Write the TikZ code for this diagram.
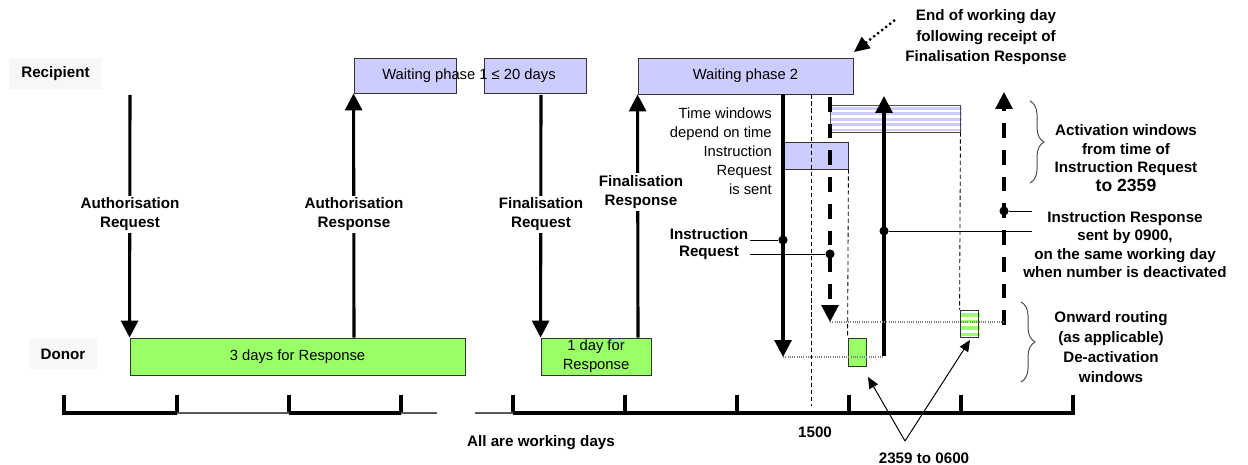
\documentclass[tikz,border=0pt]{standalone}
\usepackage{fontspec}
\setmainfont{Liberation Sans}
\usetikzlibrary{arrows.meta,decorations.pathreplacing}
\definecolor{lavender}{HTML}{CCCCFF}
\definecolor{leaf}{HTML}{99FF66}
\begin{document}
\begin{tikzpicture}[x=0.025cm,y=-0.025cm,
    every node/.style={font=\fontsize{10.5}{13.5}\selectfont},
    lane/.style={fill=black!3,inner sep=0pt,font=\fontsize{10.8}{13.5}\selectfont\bfseries},
    waitbox/.style={draw=black!80,fill=lavender,line width=0.6pt,inner sep=0pt},
    respbox/.style={draw=black!80,fill=leaf,line width=0.6pt,inner sep=0pt,align=center},
    msg/.style={line width=2.2pt,-{Triangle[width=12pt,length=12pt]}},
    msgdash/.style={msg,dash pattern=on 10.5pt off 8.5pt},
    tag/.style={font=\fontsize{10.8}{13.5}\selectfont\bfseries,align=center},
    cut/.style={tag,fill=white,inner sep=1.5pt},
    guide/.style={line width=0.6pt,dash pattern=on 3pt off 2pt},
    trace/.style={black!50,line width=0.8pt,dash pattern=on 0.8pt off 0.8pt},
    joint/.style={circle,fill,inner sep=0pt,minimum size=6.5pt},
    pointer/.style={line width=0.7pt,-{Triangle[width=7pt,length=8pt]}},
    curly/.style={decorate,decoration={brace,amplitude=10pt},black!70,line width=0.7pt}]
    \useasboundingbox (0,0) rectangle (1248,465);

    \node[lane,minimum width=2.325cm,minimum height=0.775cm] (recip) at (55.5,73.5) {Recipient};
    \node[lane,minimum width=1.7cm,minimum height=0.75cm] (donor) at (63,354) {Donor};

    \node[waitbox,minimum width=2.55cm,minimum height=0.875cm] (wp1a) at (405,75.5) {};
    \node[waitbox,minimum width=2.55cm,minimum height=0.875cm] (wp1b) at (535,75.5) {};
    \node (wp1) at (469,75.5) {Waiting phase 1 ≤ 20 days};
    \node[waitbox,minimum width=5.375cm,minimum height=0.9cm] (wp2) at (745.5,76) {Waiting phase 2};
    \node[waitbox,minimum width=1.6cm,minimum height=0.675cm] (ireq) at (816,155.5) {};
    \node[respbox,minimum width=8.375cm,minimum height=0.925cm] (resp1) at (297.5,356.5) {3 days for Response};
    \node[respbox,minimum width=2.75cm,minimum height=0.925cm] (resp2) at (596,356.5) {1 day for\\Response};

    \foreach \s in {0,...,4}
        \fill[lavender] (830,107+5.4*\s) rectangle (962,109.8+5.4*\s);
    \node[draw=black!70,line width=0.6pt,minimum width=3.25cm,minimum height=0.675cm,inner sep=0pt] (awin) at (895,118.5) {};
    \foreach \s in {0,...,3}
        \fill[leaf] (960,313+6.6*\s) rectangle (980,316.5+6.6*\s);
    \node[draw=black!80,line width=0.6pt,minimum width=0.45cm,minimum height=0.675cm,inner sep=0pt] (dwin2) at (969,323.5) {};
    \node[respbox,minimum width=0.45cm,minimum height=0.7cm] (dwin1) at (857,352) {};

    \draw[msg] (130,95) -- (resp1.north west);
    \draw[msg] (354,0 |- resp1.north) -- (wp1a.south west);
    \draw[msg] (541,95) -- (resp2.north west);
    \draw[msg] (638,0 |- resp2.north) -- (wp2.south west);

    \draw[guide] (811,0 |- wp2.south) -- (811,406);
    \draw[guide] (ireq.south east) -- (dwin1.north west);
    \draw[guide] (awin.south east) -- (dwin2.north west);
    \draw[msg] (783,0 |- wp2.south) -- (783,357) coordinate (ir1);
    \draw[msgdash] (830,97) -- (830,322) coordinate (ir2);
    \draw[msg] (884,356) coordinate (irs1) -- (884,96);
    \draw[msgdash] (1004,325) coordinate (irs2) -- (1004,92);
    \draw[trace] (ir1) -- (ir1 -| irs1);
    \draw[trace] (ir2) -- (ir2 -| irs2);

    \node[cut] (arq) at (130,214.5) {Authorisation\\Request};
    \node[cut] (ars) at (354,214.5) {Authorisation\\Response};
    \node[cut] (frq) at (541,214.5) {Finalisation\\Request};
    \node[cut] (frs) at (641,192) {Finalisation\\Response};

    \node[anchor=east,align=right,inner sep=0pt] (tw) at (772,151.5) {Time windows\\depend on time\\Instruction\\Request\\is sent};
    \node[tag,inner sep=1pt,font=\fontsize{10.8}{12}\selectfont\bfseries] (iq) at (709,244) {Instruction\\Request};
    \node[joint] (d1) at (783,240) {};
    \node[joint] (d2) at (830,254) {};
    \node[joint] (d3) at (884,231) {};
    \node[joint] (d4) at (1004,211) {};
    \draw[line width=0.7pt] (d1) -- (d1 -| iq.east);
    \draw[line width=0.7pt] (d2) -- (d2 -| iq.east);

    \node[tag,font=\fontsize{10.8}{13.2}\selectfont\bfseries] (irs) at (1125,244.5) {Instruction Response\\sent by 0900,\\on the same working day\\when number is deactivated};
    \coordinate (irsa) at (1032,211);
    \coordinate (irsb) at (1032,231);
    \draw[line width=0.7pt] (d4) -- (irsa);
    \draw[line width=0.7pt] (d3) -- (irsb);

    \node[tag,font=\fontsize{10.8}{13.3}\selectfont\bfseries] (act) at (1126,158) {Activation windows\\from time of\\Instruction Request\\{\fontsize{12.5}{13.3}\selectfont to 2359}};
    \draw[curly] (1030,101) -- (1030,183);
    \node[tag,font=\fontsize{10.8}{14.2}\selectfont\bfseries] (onw) at (1111,347) {Onward routing\\(as applicable)\\De-activation\\windows};
    \draw[curly] (1021,302) -- (1021,382);

    \node[tag,font=\fontsize{10.8}{14.6}\selectfont\bfseries] (eod) at (986,37.5) {End of working day\\following receipt of\\Finalisation Response};
    \coordinate (eodtail) at (895,20);
    \draw[line width=1.6pt,dotted,-{Triangle[width=10pt,length=11pt]}] (eodtail) -- (854,52);

    \foreach \t in {64,177,289,401,513,625,737,849,961,1073}
        \draw[line width=2.4pt] (\t,395) -- (\t,413);
    \draw[line width=2.4pt] (62.4,413) -- (177,413);
    \draw[line width=1.6pt,black!65] (177,413) -- (289,413);
    \draw[line width=2.4pt] (289,413) -- (401,413);
    \draw[line width=1.6pt,black!65] (401,413) -- (437,413);
    \draw[line width=1.6pt,black!65] (475,413) -- (513,413);
    \draw[line width=2.4pt] (513,413) -- (1074.6,413);

    \node[tag] (alldays) at (541,443) {All are working days};
    \node[tag] (t1500) at (815,432) {1500};
    \node[tag] (tnight) at (924,458) {2359 to 0600};
    \coordinate (apex) at (905,441);
    \draw[pointer] (apex) -- (868,377);
    \draw[pointer] (apex) -- (970,340);
\end{tikzpicture}
\end{document}
